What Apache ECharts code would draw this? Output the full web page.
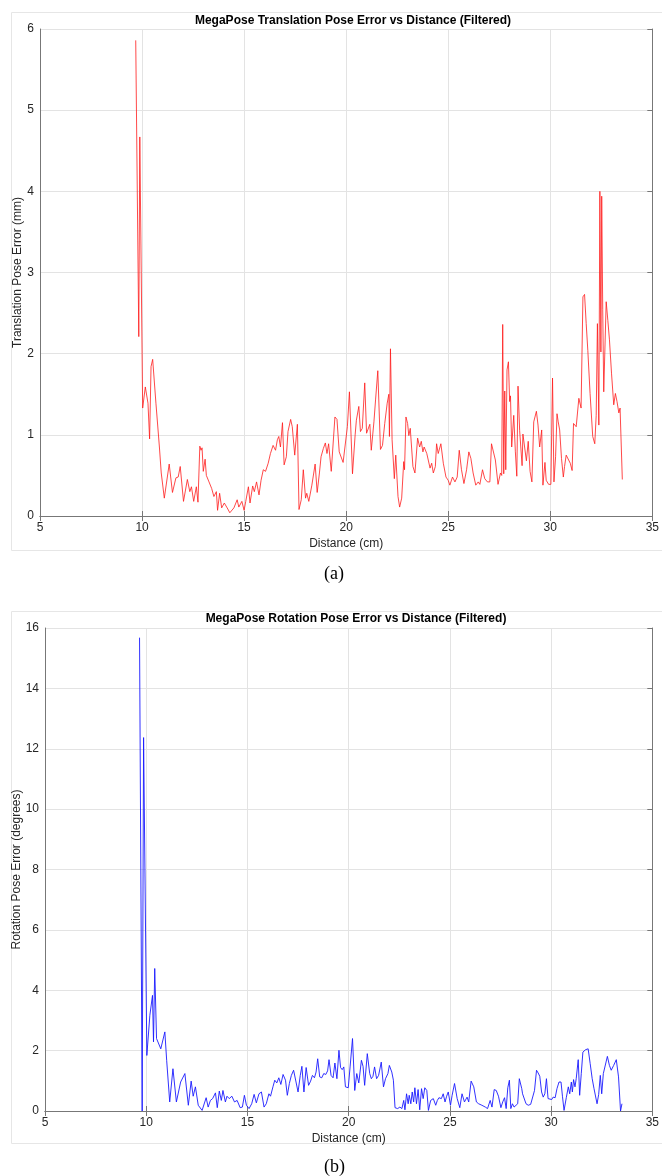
<!DOCTYPE html>
<html>
<head>
<meta charset="utf-8">
<script src="https://cdn.jsdelivr.net/npm/echarts@6/dist/echarts.min.js"></script>
<style>
  html, body { margin: 0; padding: 0; background: #fff; }
  #chart { width: 662px; height: 1176px; }
</style>
</head>
<body>
<div id="chart"></div>
<script>
// translation error (mm) vs distance (cm)
const transDist = [
  9.69, 9.84, 9.89, 10.03, 10.16, 10.29, 10.37, 10.44, 10.52, 10.68, 10.85, 10.94, 11.09, 11.33, 11.49,
  11.66, 11.77, 11.87, 11.93, 12.03, 12.22, 12.34, 12.42, 12.53, 12.66, 12.74, 12.83, 12.89, 12.94, 13.00,
  13.09, 13.15, 13.28, 13.41, 13.52, 13.64, 13.70, 13.80, 13.90, 14.03, 14.17, 14.30, 14.50, 14.66, 14.74,
  14.89, 15.00, 15.08, 15.21, 15.29, 15.42, 15.50, 15.61, 15.73, 15.83, 15.94, 16.05, 16.18, 16.29, 16.42,
  16.54, 16.63, 16.70, 16.78, 16.88, 16.96, 17.07, 17.15, 17.28, 17.36, 17.48, 17.61, 17.69, 17.80, 17.90,
  18.01, 18.07, 18.17, 18.32, 18.48, 18.58, 18.69, 18.77, 18.88, 18.98, 19.06, 19.14, 19.27, 19.45, 19.55,
  19.66, 19.74, 19.85, 19.94, 20.06, 20.16, 20.31, 20.44, 20.50, 20.62, 20.70, 20.79, 20.91, 21.00, 21.08,
  21.16, 21.23, 21.36, 21.44, 21.55, 21.68, 21.78, 21.89, 22.01, 22.09, 22.12, 22.17, 22.25, 22.36, 22.43,
  22.54, 22.62, 22.72, 22.82, 22.86, 22.93, 23.01, 23.07, 23.14, 23.27, 23.37, 23.50, 23.60, 23.68, 23.76,
  23.82, 23.95, 24.03, 24.11, 24.19, 24.27, 24.37, 24.43, 24.51, 24.64, 24.76, 24.89, 25.00, 25.08, 25.21,
  25.33, 25.44, 25.54, 25.65, 25.77, 25.90, 26.01, 26.11, 26.22, 26.35, 26.47, 26.55, 26.68, 26.79, 26.92,
  27.04, 27.12, 27.20, 27.31, 27.44, 27.56, 27.62, 27.67, 27.72, 27.77, 27.82, 27.88, 27.95, 28.01, 28.05,
  28.11, 28.21, 28.29, 28.36, 28.42, 28.50, 28.62, 28.66, 28.75, 28.83, 28.92, 29.01, 29.10, 29.19, 29.32,
  29.40, 29.48, 29.58, 29.64, 29.74, 29.80, 29.92, 30.03, 30.11, 30.18, 30.26, 30.33, 30.39, 30.46, 30.55,
  30.64, 30.70, 30.78, 30.86, 30.98, 31.07, 31.14, 31.27, 31.34, 31.40, 31.51, 31.60, 31.68, 31.76, 31.84,
  31.95, 32.08, 32.18, 32.25, 32.31, 32.38, 32.43, 32.48, 32.52, 32.57, 32.62, 32.74, 32.82, 32.90, 33.00,
  33.11, 33.19, 33.27, 33.36, 33.42, 33.47, 33.53
];
const transErr = [
  5.86, 2.21, 4.67, 1.33, 1.59, 1.39, 0.95, 1.84, 1.93, 1.39, 0.85, 0.53, 0.22, 0.64, 0.29,
  0.47, 0.48, 0.61, 0.59, 0.18, 0.45, 0.30, 0.36, 0.18, 0.36, 0.17, 0.86, 0.81, 0.84, 0.55,
  0.70, 0.50, 0.42, 0.34, 0.24, 0.30, 0.07, 0.28, 0.10, 0.16, 0.10, 0.04, 0.10, 0.20, 0.11,
  0.18, 0.07, 0.18, 0.36, 0.16, 0.37, 0.30, 0.42, 0.26, 0.44, 0.57, 0.55, 0.65, 0.77, 0.87,
  0.81, 0.94, 0.98, 0.85, 1.15, 0.63, 0.73, 1.04, 1.19, 1.10, 0.75, 1.13, 0.08, 0.20, 0.57,
  0.22, 0.28, 0.18, 0.38, 0.64, 0.29, 0.53, 0.73, 0.83, 0.90, 0.77, 0.89, 0.55, 1.22, 1.19,
  0.79, 0.77, 0.66, 0.64, 1.10, 1.53, 0.52, 1.00, 1.18, 1.35, 1.04, 1.08, 1.64, 1.02, 1.04,
  1.13, 0.81, 1.16, 1.43, 1.79, 0.82, 0.87, 1.14, 1.39, 1.50, 0.98, 2.06, 0.94, 0.46, 0.75,
  0.24, 0.11, 0.22, 0.67, 0.57, 1.22, 1.14, 0.99, 1.08, 0.61, 0.53, 0.96, 0.85, 0.92, 0.79,
  0.85, 0.77, 0.79, 0.59, 0.65, 0.53, 0.61, 0.89, 0.77, 0.89, 0.65, 0.48, 0.44, 0.38, 0.48,
  0.42, 0.48, 0.81, 0.57, 0.40, 0.57, 0.79, 0.71, 0.53, 0.38, 0.42, 0.39, 0.57, 0.46, 0.42,
  0.42, 0.89, 0.89, 0.69, 0.39, 0.53, 0.50, 2.36, 0.52, 1.54, 0.57, 1.80, 1.90, 1.41, 1.48,
  0.85, 1.24, 0.79, 0.49, 1.60, 1.05, 0.62, 1.01, 0.99, 0.68, 0.92, 0.55, 0.42, 1.16, 1.29,
  1.12, 0.85, 1.06, 0.38, 0.66, 0.44, 0.39, 0.39, 1.70, 0.42, 0.73, 1.26, 1.16, 1.06, 0.71,
  0.48, 0.61, 0.75, 0.73, 0.65, 0.56, 1.14, 1.10, 1.10, 1.45, 1.33, 2.70, 2.73, 2.37, 2.04,
  1.51, 0.98, 0.89, 1.24, 2.37, 1.12, 4.00, 2.02, 3.94, 2.54, 1.53, 2.64, 2.41, 2.17, 1.76,
  1.37, 1.51, 1.41, 1.27, 1.33, 1.31, 0.45
];

// rotation error (degrees) vs distance (cm)
const rotDist = [
  9.67, 9.80, 9.87, 10.03, 10.18, 10.31, 10.36, 10.42, 10.51, 10.72, 10.92, 11.01, 11.16, 11.32, 11.49,
  11.70, 11.91, 12.08, 12.22, 12.32, 12.43, 12.57, 12.76, 12.96, 13.06, 13.17, 13.28, 13.42, 13.51, 13.61,
  13.71, 13.79, 13.91, 13.99, 14.10, 14.23, 14.36, 14.49, 14.64, 14.75, 14.85, 14.95, 15.08, 15.21, 15.33,
  15.44, 15.57, 15.69, 15.82, 15.93, 16.06, 16.14, 16.26, 16.35, 16.45, 16.55, 16.65, 16.76, 16.88, 16.97,
  17.07, 17.17, 17.28, 17.40, 17.50, 17.61, 17.69, 17.79, 17.90, 18.02, 18.12, 18.21, 18.31, 18.39, 18.47,
  18.57, 18.67, 18.77, 18.87, 18.96, 19.03, 19.13, 19.23, 19.32, 19.42, 19.52, 19.60, 19.68, 19.76, 19.84,
  19.98, 20.07, 20.19, 20.30, 20.40, 20.50, 20.63, 20.71, 20.79, 20.92, 21.04, 21.12, 21.20, 21.28, 21.38,
  21.48, 21.61, 21.72, 21.82, 21.94, 22.01, 22.13, 22.21, 22.29, 22.42, 22.53, 22.63, 22.72, 22.78, 22.86,
  22.94, 22.99, 23.07, 23.14, 23.21, 23.27, 23.35, 23.43, 23.51, 23.60, 23.68, 23.76, 23.86, 23.94, 24.05,
  24.18, 24.30, 24.38, 24.46, 24.58, 24.67, 24.76, 24.84, 24.92, 25.03, 25.11, 25.23, 25.36, 25.49, 25.60,
  25.72, 25.85, 25.93, 26.05, 26.18, 26.31, 26.42, 26.58, 26.75, 26.86, 26.99, 27.08, 27.19, 27.29, 27.40,
  27.52, 27.61, 27.70, 27.78, 27.86, 27.94, 28.01, 28.09, 28.17, 28.25, 28.35, 28.43, 28.55, 28.59, 28.66,
  28.76, 28.87, 28.99, 29.08, 29.18, 29.28, 29.36, 29.44, 29.53, 29.61, 29.69, 29.77, 29.85, 29.93, 30.03,
  30.10, 30.20, 30.29, 30.39, 30.49, 30.56, 30.64, 30.75, 30.85, 30.92, 31.00, 31.05, 31.11, 31.18, 31.24,
  31.34, 31.41, 31.49, 31.57, 31.70, 31.83, 31.93, 32.03, 32.12, 32.19, 32.27, 32.35, 32.43, 32.50, 32.58,
  32.66, 32.78, 32.88, 32.97, 33.09, 33.22, 33.33, 33.43, 33.50
];
const rotErr = [
  15.68, 0.00, 12.37, 1.84, 3.17, 3.83, 2.29, 4.72, 2.40, 2.06, 2.62, 1.68, 0.30, 1.40, 0.30,
  0.96, 1.24, 0.19, 0.99, 0.49, 0.80, 0.19, 0.02, 0.44, 0.13, 0.35, 0.41, 0.60, 0.11, 0.66,
  0.35, 0.68, 0.30, 0.49, 0.41, 0.49, 0.30, 0.35, 0.11, 0.13, 0.52, 0.19, 0.08, 0.24, 0.55,
  0.27, 0.57, 0.63, 0.13, 0.24, 0.57, 0.49, 0.80, 1.02, 0.93, 1.10, 0.88, 1.21, 1.02, 0.52,
  0.91, 1.18, 1.35, 0.96, 0.63, 1.18, 1.48, 0.63, 1.44, 0.85, 0.99, 1.18, 1.10, 1.29, 1.73,
  1.13, 1.10, 1.24, 1.21, 1.33, 1.70, 1.18, 1.10, 1.59, 1.07, 2.01, 1.44, 1.37, 1.46, 0.80,
  0.77, 1.46, 2.40, 0.68, 1.24, 0.93, 1.68, 1.48, 0.85, 1.90, 1.24, 1.07, 1.15, 1.46, 1.07,
  1.18, 1.62, 0.80, 1.07, 1.24, 1.51, 1.29, 1.02, 0.11, 0.08, 0.13, 0.08, 0.35, 0.04, 0.57,
  0.24, 0.52, 0.24, 0.63, 0.30, 0.77, 0.24, 0.71, 0.04, 0.74, 0.41, 0.77, 0.68, 0.02, 0.35,
  0.41, 0.19, 0.35, 0.44, 0.41, 0.57, 0.30, 0.49, 0.63, 0.19, 0.52, 0.91, 0.41, 0.11, 0.57,
  0.30, 0.46, 0.30, 0.99, 0.80, 0.30, 0.24, 0.19, 0.13, 0.08, 0.35, 0.13, 0.71, 0.68, 0.49,
  0.11, 0.30, 0.44, 0.08, 0.77, 1.02, 0.08, 0.24, 0.13, 0.19, 0.24, 1.07, 0.74, 0.57, 0.63,
  0.24, 0.19, 0.22, 0.24, 0.68, 1.35, 1.26, 1.15, 0.63, 0.46, 0.57, 1.07, 0.41, 0.35, 0.38,
  0.46, 0.44, 0.74, 0.96, 0.96, 0.49, 0.02, 0.44, 0.80, 0.57, 0.96, 0.63, 1.04, 0.80, 1.07,
  1.70, 0.52, 1.24, 1.95, 2.03, 2.06, 1.57, 1.07, 0.74, 0.80, 0.24, 0.55, 1.18, 0.57, 1.24,
  1.26, 1.81, 1.51, 1.35, 1.51, 1.70, 1.13, 0.00, 0.24
];

const font = 'Liberation Sans, Arial, sans-serif';
const axisGray = '#777';
const gridGray = '#e3e3e3';
const tickColor = '#262626';

function pairs(xs, ys) {
  return xs.map((x, i) => [x, ys[i]]);
}

function xAxes(gridIndex) {
  return [{
    gridIndex, type: 'value', min: 5, max: 35, interval: 5,
    name: 'Distance (cm)', nameLocation: 'middle', nameGap: 22,
    nameTextStyle: { fontFamily: font, fontSize: 12, color: tickColor },
    axisLine: { lineStyle: { color: axisGray, width: 1 } },
    axisTick: { inside: true, length: 5, lineStyle: { color: axisGray } },
    axisLabel: { fontFamily: font, fontSize: 12, color: tickColor, margin: 6 },
    splitLine: { show: true, lineStyle: { color: gridGray, width: 1 } }
  }, {
    gridIndex, type: 'value', min: 5, max: 35, interval: 5, position: 'top',
    axisLine: { lineStyle: { color: axisGray, width: 1 } },
    axisTick: { inside: true, length: 5, lineStyle: { color: axisGray } },
    axisLabel: { show: false },
    splitLine: { show: false }
  }];
}

function yAxes(gridIndex, max, interval, name, gap) {
  return [{
    gridIndex, type: 'value', min: 0, max, interval,
    name, nameLocation: 'middle', nameGap: gap, nameMoveOverlap: false,
    nameTextStyle: { fontFamily: font, fontSize: 12, color: tickColor },
    axisLine: { show: true, lineStyle: { color: axisGray, width: 1 } },
    axisTick: { show: false },
    axisLabel: { fontFamily: font, fontSize: 12, color: tickColor, margin: 6 },
    splitLine: { show: true, lineStyle: { color: gridGray, width: 1 } }
  }, {
    gridIndex, type: 'value', min: 0, max, interval, position: 'right',
    axisLine: { show: true, lineStyle: { color: axisGray, width: 1 } },
    axisTick: { show: true, inside: true, length: 5, lineStyle: { color: axisGray } },
    axisLabel: { show: false },
    splitLine: { show: false }
  }];
}

const chart = echarts.init(document.getElementById('chart'), null, { renderer: 'canvas' });

chart.setOption({
  animation: false,
  backgroundColor: '#fff',
  title: [{
    text: 'MegaPose Translation Pose Error vs Distance (Filtered)',
    left: 348, top: 10, textAlign: 'center',
    textStyle: { fontFamily: font, fontSize: 12, fontWeight: 'bold', color: '#000' }
  }, {
    text: 'MegaPose Rotation Pose Error vs Distance (Filtered)',
    left: 351, top: 608, textAlign: 'center',
    textStyle: { fontFamily: font, fontSize: 12, fontWeight: 'bold', color: '#000' }
  }],
  graphic: [
    { type: 'rect', z: -10, shape: { x: 11.5, y: 12.5, width: 660, height: 538 },
      style: { fill: 'none', stroke: '#e6e6e6', lineWidth: 1 } },
    { type: 'rect', z: -10, shape: { x: 11.5, y: 611.5, width: 660, height: 532 },
      style: { fill: 'none', stroke: '#e6e6e6', lineWidth: 1 } },
    { type: 'text', left: 324, top: 565,
      style: { text: '(a)', font: '18px "Liberation Serif", "Times New Roman", serif', fill: '#000' } },
    { type: 'text', left: 324, top: 1158,
      style: { text: '(b)', font: '18px "Liberation Serif", "Times New Roman", serif', fill: '#000' } }
  ],
  grid: [
    { left: 40, top: 29, width: 616, height: 487 },
    { left: 45, top: 628, width: 612, height: 483 }
  ],
  xAxis: [...xAxes(0), ...xAxes(1)],
  yAxis: [
    ...yAxes(0, 6, 1, 'Translation Pose Error (mm)', 16),
    ...yAxes(1, 16, 2, 'Rotation Pose Error (degrees)', 22)
  ],
  series: [{
    type: 'line', xAxisIndex: 0, yAxisIndex: 0,
    data: pairs(transDist, transErr),
    showSymbol: false, smooth: false,
    lineStyle: { color: '#ff1a1a', width: 0.8 }
  }, {
    type: 'line', xAxisIndex: 2, yAxisIndex: 2,
    data: pairs(rotDist, rotErr),
    showSymbol: false, smooth: false,
    lineStyle: { color: '#1a1aff', width: 0.9 }
  }]
});
</script>
</body>
</html>
